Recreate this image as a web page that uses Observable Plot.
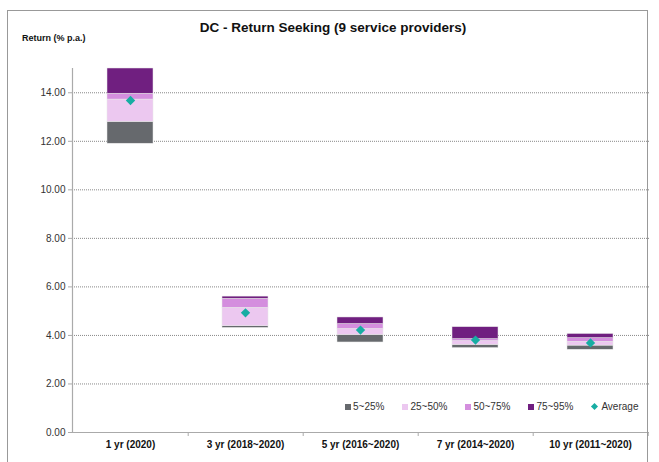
<!DOCTYPE html>
<html><head><meta charset="utf-8">
<script src="https://cdn.jsdelivr.net/npm/d3@7"></script>
<script src="https://cdn.jsdelivr.net/npm/@observablehq/plot@0.6"></script>
<style>
body{margin:0;background:#fff;font-family:"Liberation Sans",Arial,sans-serif;}
#wrap{position:relative;width:659px;height:462px;overflow:hidden;}
#border{position:absolute;left:7px;top:10px;width:641px;height:470px;border:1px solid #999;box-sizing:border-box;}
#title{position:absolute;left:0;width:666px;top:20px;text-align:center;font-size:13.5px;font-weight:bold;color:#111;}
#ylab{position:absolute;left:22px;top:33px;font-size:9px;font-weight:bold;color:#111;}
#legend{position:absolute;left:345px;top:401px;font-size:10px;color:#333;display:flex;gap:0;}
#legend .it{display:flex;align-items:center;margin-right:18px;}
#legend .sw{display:inline-block;width:6px;height:6px;margin-right:2px;}
#legend .dm{display:inline-block;width:5px;height:5px;transform:rotate(45deg);margin-right:4px;margin-left:1px;}
#chart{position:absolute;left:0;top:0;}
</style></head>
<body><div id="wrap"><div id="chart"></div><div id="border"></div><div id="title"></div><div id="ylab"></div><div id="legend"></div></div>
<script>
const title = "DC - Return Seeking (9 service providers)";
const yLabel = "Return (% p.a.)";
const periods = ["1 yr (2020)", "3 yr (2018~2020)", "5 yr (2016~2020)", "7 yr (2014~2020)", "10 yr (2011~2020)"];
const p5  = [11.90, 4.31, 3.71, 3.48, 3.41];
const p25 = [12.80, 4.38, 4.02, 3.61, 3.58];
const p50 = [13.72, 5.14, 4.27, 3.77, 3.74];
const p75 = [13.96, 5.51, 4.47, 3.85, 3.89];
const p95 = [15.00, 5.60, 4.74, 4.34, 4.06];
const avg = [13.68, 4.93, 4.22, 3.81, 3.69];
const segNames = ["5~25%", "25~50%", "50~75%", "75~95%"];
const segColors = ["#66696d", "#ecc8f0", "#d48ede", "#701f80"];
const avgName = "Average";
const avgColor = "#17ada3";
const yTicks = [0, 2, 4, 6, 8, 10, 12, 14];

const bounds = [p5, p25, p50, p75, p95];
const rows = [];
periods.forEach((p, i) => {
  segNames.forEach((s, k) => rows.push({period: p, seg: s, lo: bounds[k][i], hi: bounds[k + 1][i]}));
});
const avgRows = periods.map((p, i) => ({period: p, v: avg[i]}));

const W = 659, H = 462, mL = 72, mR = 10, mT = 68, mB = 30;
const step = (W - mL - mR) / periods.length;

document.getElementById("title").textContent = title;
document.getElementById("ylab").textContent = yLabel;
const leg = document.getElementById("legend");
segNames.forEach((s, k) => {
  const it = document.createElement("span"); it.className = "it";
  it.innerHTML = `<span class="sw" style="background:${segColors[k]}"></span>${s}`;
  leg.appendChild(it);
});
{ const it = document.createElement("span"); it.className = "it";
  it.innerHTML = `<span class="dm" style="background:${avgColor}"></span>${avgName}`; leg.appendChild(it); }

const chart = Plot.plot({
  width: W, height: H,
  marginLeft: mL, marginRight: mR, marginTop: mT, marginBottom: mB,
  style: {fontFamily: "Liberation Sans, Arial, sans-serif", fontSize: "10px", color: "#333", background: "transparent"},
  x: {domain: periods, paddingInner: 0.6, paddingOuter: 0.3, label: null},
  y: {domain: [0, 15], label: null},
  color: {domain: segNames, range: segColors},
  marks: [
    Plot.gridY(yTicks.slice(1), {stroke: "#888", strokeOpacity: 1, strokeDasharray: "1,1"}),
    Plot.rectY(rows, {x: "period", y1: "lo", y2: "hi", fill: "seg", stroke: "#e8e8e8", strokeWidth: 0.5}),
    Plot.dot(avgRows, {x: "period", y: "v", symbol: "diamond2", r: 4.2, fill: avgColor, stroke: "none"}),
    Plot.axisY(yTicks, {tickFormat: d3.format(".2f"), tickSize: 4, tickPadding: 3, stroke: "#aaa", fill: "#333", fontSize: 10}),
    Plot.axisX({tickSize: 0, tickPadding: 8, fontWeight: "bold", fontSize: 10, fill: "#111"}),
    Plot.ruleX(periods, {x: d => d, dx: step / 2, y1: 0, y2: 0, insetBottom: -4, stroke: "#aaa"}),
    Plot.ruleY([0], {stroke: "#aaa", strokeWidth: 1.2}),
    Plot.frame({anchor: "left", stroke: "#aaa", strokeWidth: 1.2})
  ]
});
document.getElementById("chart").appendChild(chart);
</script></body></html>
